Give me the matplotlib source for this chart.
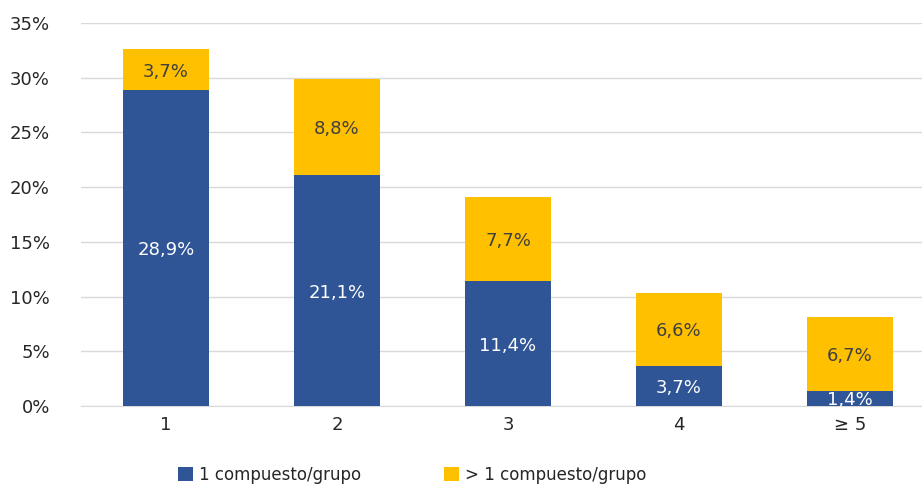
import matplotlib
matplotlib.use('Agg')
import numpy as np
import matplotlib.pyplot as plt

plt.rcParams['font.family'] = ['DejaVu Sans']

categories = ['1', '2', '3', '4', '\u2265 5']
uno = [28.9, 21.1, 11.4, 3.7, 1.4]
mas = [3.7, 8.8, 7.7, 6.6, 6.7]
series_names = ['1 compuesto/grupo', '> 1 compuesto/grupo']

azul = '#2F5597'
amarillo = '#FFC000'

fig = plt.figure(figsize=(9.22, 4.86), dpi=100)
ax = fig.add_axes([80.5/922, 1 - 406/486, 855/922, 383/486])

x = np.arange(len(categories))
ax.bar(x, uno, width=0.5, color=azul, label=series_names[0], zorder=3)
ax.bar(x, mas, width=0.5, bottom=uno, color=amarillo, label=series_names[1], zorder=3)

for i in range(len(x)):
    ax.text(x[i], uno[i]/2, ('%.1f%%' % uno[i]).replace('.', ','), ha='center',
            va='center_baseline', color='white', fontsize=13, zorder=4)
    ax.text(x[i], uno[i] + mas[i]/2, ('%.1f%%' % mas[i]).replace('.', ','), ha='center',
            va='center_baseline', color='#404040', fontsize=13, zorder=4)

ax.set_xlim(-0.5, 4.5)
ax.set_ylim(0, 35)
ax.set_yticks(np.arange(0, 36, 5))
ax.set_yticklabels(['%d%%' % v for v in range(0, 36, 5)])
ax.set_xticks(x)
ax.set_xticklabels(categories)
ax.grid(axis='y', color='#D9D9D9', linewidth=1, zorder=0)
ax.tick_params(axis='both', length=0, labelsize=13, colors='#262626')
ax.tick_params(axis='x', pad=7)
ax.tick_params(axis='y', pad=22)
for s in ['top', 'right', 'left']:
    ax.spines[s].set_visible(False)
ax.spines['bottom'].set_color('#D9D9D9')

fig.legend(loc='center', bbox_to_anchor=(412/922, 1 - 475/486), ncol=2, frameon=False,
           fontsize=12, handlelength=0.9, handleheight=0.9, columnspacing=5.0, handletextpad=0.35,
           labelcolor='#262626')

fig.savefig('out.png', dpi=100)
